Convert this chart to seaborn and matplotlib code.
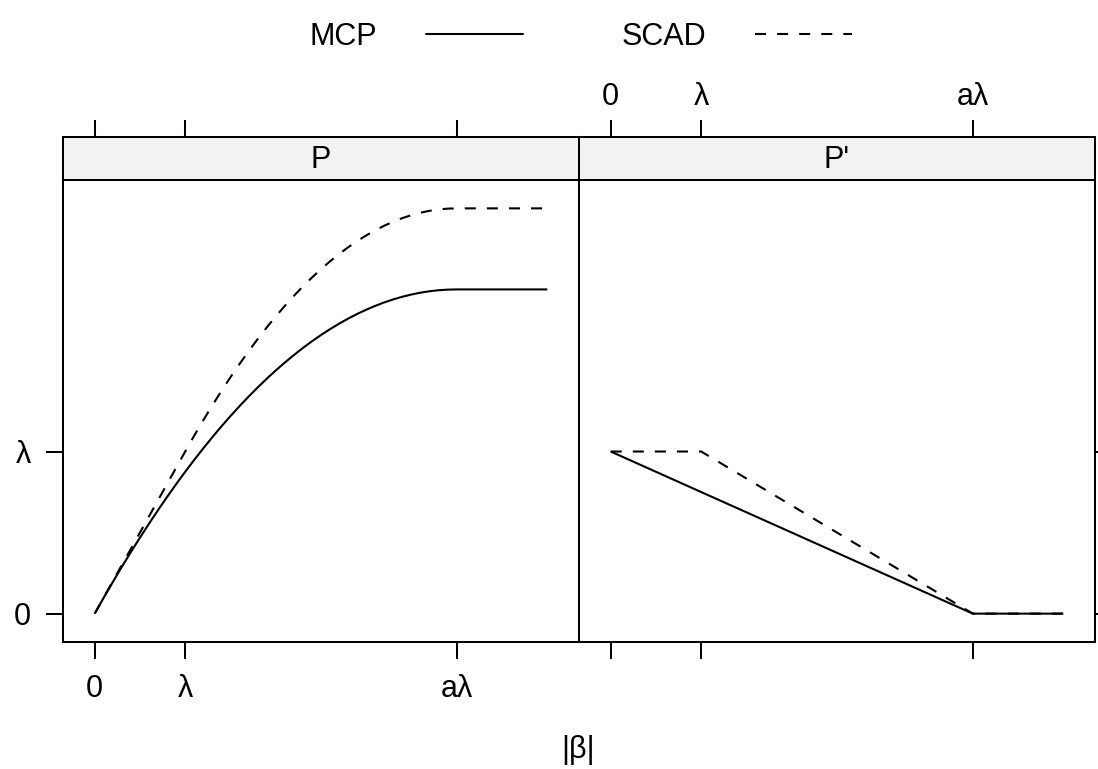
import numpy as np
import pandas as pd
import matplotlib
matplotlib.use("Agg")
import matplotlib.pyplot as plt
import seaborn as sns
from matplotlib.lines import Line2D

sns.set_style("white")
plt.rcParams["font.family"] = ["Liberation Sans", "DejaVu Sans"]
plt.rcParams["text.color"] = "black"

# ---- data (lambda = 1, a = 4) ----
beta = [0.0, 0.1, 0.2, 0.3, 0.4, 0.5, 0.6, 0.7, 0.8, 0.9, 1.0,
        1.1, 1.2, 1.3, 1.4, 1.5, 1.6, 1.7, 1.8, 1.9, 2.0,
        2.1, 2.2, 2.3, 2.4, 2.5, 2.6, 2.7, 2.8, 2.9, 3.0,
        3.1, 3.2, 3.3, 3.4, 3.5, 3.6, 3.7, 3.8, 3.9, 4.0, 5.0]
mcp_P = [0.0, 0.09875, 0.195, 0.28875, 0.38, 0.46875, 0.555, 0.63875, 0.72, 0.79875, 0.875,
         0.94875, 1.02, 1.08875, 1.155, 1.21875, 1.28, 1.33875, 1.395, 1.44875, 1.5,
         1.54875, 1.595, 1.63875, 1.68, 1.71875, 1.755, 1.78875, 1.82, 1.84875, 1.875,
         1.89875, 1.92, 1.93875, 1.955, 1.96875, 1.98, 1.98875, 1.995, 1.99875, 2.0, 2.0]
scad_P = [0.0, 0.1, 0.2, 0.3, 0.4, 0.5, 0.6, 0.7, 0.8, 0.9, 1.0,
          1.09833, 1.19333, 1.285, 1.37333, 1.45833, 1.54, 1.61833, 1.69333, 1.765, 1.83333,
          1.89833, 1.96, 2.01833, 2.07333, 2.125, 2.17333, 2.21833, 2.26, 2.29833, 2.33333,
          2.365, 2.39333, 2.41833, 2.44, 2.45833, 2.47333, 2.485, 2.49333, 2.49833, 2.5, 2.5]
beta_d = [0.0, 1.0, 4.0, 5.0]
mcp_dP = [1.0, 0.75, 0.0, 0.0]
scad_dP = [1.0, 1.0, 0.0, 0.0]

panels = ["P", "P'"]
penalties = ["MCP", "SCAD"]
xtick_pos = [0, 1, 4]
xtick_lab = ["0", "λ", "aλ"]
ytick_pos = [0, 1]
ytick_lab = ["0", "λ"]
xlabel = "|β|"

df_P = pd.DataFrame({"beta": beta * 2, "value": mcp_P + scad_P,
                     "penalty": ["MCP"] * len(beta) + ["SCAD"] * len(beta)})
df_dP = pd.DataFrame({"beta": beta_d * 2, "value": mcp_dP + scad_dP,
                      "penalty": ["MCP"] * len(beta_d) + ["SCAD"] * len(beta_d)})

W, H = 1098, 769
fig = plt.figure(figsize=(W / 100, H / 100), dpi=100)


def rect(x0, y0, x1, y1):
    return [x0 / W, 1 - y1 / H, (x1 - x0) / W, (y1 - y0) / H]


LW = 1.45
TL = 12
FS = 22
dashes = {"MCP": "", "SCAD": (5.3, 5.3)}
xlim = (-0.35, 5.35)
ylim = (-0.175, 2.675)

ax1 = fig.add_axes(rect(63, 180, 579, 642))
ax2 = fig.add_axes(rect(579, 180, 1095, 642))
s1 = fig.add_axes(rect(63, 137, 579, 180))
s2 = fig.add_axes(rect(579, 137, 1095, 180))

for ax, df in [(ax1, df_P), (ax2, df_dP)]:
    sns.lineplot(data=df, x="beta", y="value", style="penalty",
                 style_order=penalties, dashes=dashes, color="black",
                 linewidth=1.5, estimator=None, sort=False, legend=False, ax=ax)
    for ln in ax.get_lines():
        ln.set_solid_capstyle("butt")
        ln.set_dash_capstyle("butt")
        ln.set_solid_joinstyle("round")
    ax.set_xlim(*xlim)
    ax.set_ylim(*ylim)
    ax.set_xlabel("")
    ax.set_ylabel("")
    ax.set_facecolor("white")
    for sp in ax.spines.values():
        sp.set_visible(True)
        sp.set_color("black")
        sp.set_linewidth(LW)
    ax.set_xticks(xtick_pos)
    ax.set_yticks(ytick_pos)
    ax.tick_params(direction="out", length=TL, width=LW, color="black",
                   labelsize=FS, labelcolor="black")

ax1.set_xticklabels(xtick_lab)
ax1.set_yticklabels(ytick_lab)
ax1.tick_params(axis="x", bottom=True, top=False, labelbottom=True, pad=11)
ax1.tick_params(axis="y", left=True, right=False, labelleft=True, pad=11)
ax2.tick_params(axis="x", bottom=True, top=False, labelbottom=False)
ax2.tick_params(axis="y", left=False, right=True, labelleft=False, labelright=False)

for s, name, lab in [(s1, panels[0], False), (s2, panels[1], True)]:
    s.set_xlim(*xlim)
    s.set_ylim(0, 1)
    s.set_facecolor("#f2f2f2")
    for sp in s.spines.values():
        sp.set_visible(True)
        sp.set_color("black")
        sp.set_linewidth(LW)
    s.set_xticks(xtick_pos)
    s.set_xticklabels(xtick_lab)
    s.set_yticks([])
    s.tick_params(axis="x", direction="out", length=TL, width=LW, color="black",
                  bottom=False, top=True, labelbottom=False, labeltop=lab,
                  labelsize=FS, labelcolor="black", pad=6)
    s.text(0.5, 0.47, name, transform=s.transAxes, ha="center", va="center",
           fontsize=FS, color="black")

fig.text(578 / W, 1 - 750 / H, xlabel, ha="center", va="center", fontsize=FS,
         color="black")

handles = [Line2D([], [], color="black", lw=1.5, linestyle="-"),
           Line2D([], [], color="black", lw=1.5, dashes=(5.3, 5.3))]
leg = fig.legend(handles, penalties, loc="center", bbox_to_anchor=(581 / W, 1 - 37 / H),
                 ncol=2, frameon=False, markerfirst=False, fontsize=FS,
                 handlelength=3.17, handletextpad=1.6, columnspacing=3.24)
for t in leg.get_texts():
    t.set_color("black")

fig.savefig("out.png", dpi=100, facecolor="white")
